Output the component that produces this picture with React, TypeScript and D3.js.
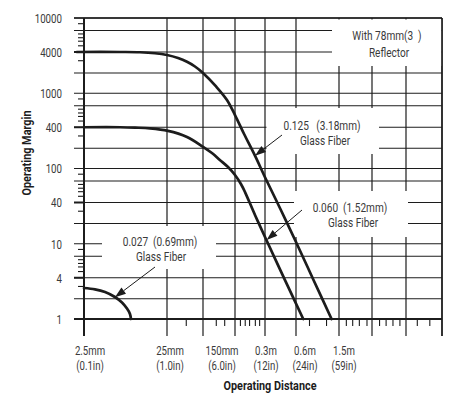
import * as d3 from "d3";

// operating distance, mm
const xGridValues = [2.5, 25, 75, 150, 300, 600, 1500, 3000, 6000, 15000];
const xMinorValues = [45, 100, 120, 170, 190, 210, 240, 265, 800, 1150, 1750, 2000, 2300, 2700, 3500, 4000, 4600, 5300, 8000, 11000];
const xTickValues = [2.5, 25, 150, 300, 600, 1500];
const xTickMetric = ["2.5mm", "25mm", "150mm", "0.3m", "0.6m", "1.5m"];
const xTickInch = ["(0.1in)", "(1.0in)", "(6.0in)", "(12in)", "(24in)", "(59in)"];

// operating margin
const yDecades = [1, 10, 100, 1000];
const yGridSteps = [1, 2, 4, 7];
const yMinorSteps = [3, 4.7, 5.3, 5.8, 6.4, 8.5];
const yTickValues = [1, 4, 10, 40, 100, 400, 1000, 4000, 10000];
const yTickLabels = ["1", "4", "10", "40", "100", "400", "1000", "4000", "10000"];

// curves (distance mm, margin)
const fiber125Dist = [2.05, 6.8, 11.8, 17.9, 25, 35, 46, 58.7, 75, 100, 126, 150, 185, 238, 300, 429, 600, 880, 1280];
const fiber125Margin = [4000, 4000, 3970, 3840, 3620, 3280, 2900, 2480, 2000, 1250, 825, 550, 320, 155, 78, 31, 10.6, 3.6, 1];
const fiber060Dist = [2.5, 6.8, 10.3, 15.6, 25.8, 46, 75, 91, 108, 129, 150, 172, 189, 238, 300, 469, 700];
const fiber060Margin = [400, 400, 395, 386, 355, 290, 210, 170, 134, 105, 83, 64.7, 52.5, 26.5, 12.6, 3.7, 1];
const fiber027Dist = [2.5, 3.39, 4.48, 5.9, 7.17, 8.24, 8.95, 9.2];
const fiber027Margin = [2.85, 2.73, 2.5, 2.12, 1.76, 1.43, 1.19, 1];

// where each arrow points (distance mm, margin)
const arrowTipDist = [238, 311, 5.9];
const arrowTipMargin = [155, 11.4, 2.1];

const W = 470;
const H = 403;
const PLOT = { left: 84, right: 442, top: 18, bottom: 319 };
// the printed chart is uneven, so both scales are piecewise
const X_GRID_PX = [0, 83, 119, 151, 181, 212, 255, 288, 322, 358];
const DECADE_PX = 75.25;
const STEP_OFFSET: { [k: number]: number } = { 1: 75.25, 2: 55, 4: 34, 7: 12.5 };
const X_LABEL_DX = [6, 3, -13, 1, 9, 5];

// no condensed face installed, so text is squeezed horizontally
const FONT = 'Roboto, "Liberation Sans", sans-serif';
const INK = "#1c1c1c";
const TEXT = "#3a3a3a";

const notes = [
  { box: [332, 19.5, 109.5, 46.5], lines: [["With 78mm(3  )", 387, 39.5], ["Reflector", 389, 56.5]], tail: null },
  { box: [266.5, 108, 112.5, 46], lines: [["0.125   (3.18mm)", 322, 130.3], ["Glass Fiber", 325, 145]], tail: [282, 135] },
  { box: [294, 191, 114, 46], lines: [["0.060  (1.52mm)", 350, 211.7], ["Glass Fiber", 353, 227]], tail: [302, 210] },
  { box: [102, 226, 114, 43], lines: [["0.027  (0.69mm)", 160, 245.8], ["Glass Fiber", 161, 260.8]], tail: [155, 267] },
];

const yDomain = [...yDecades.flatMap((d) => yGridSteps.map((s) => s * d)), 10000];
const yRange = yDomain.map((v) => {
  const k = Math.floor(Math.log10(v) + 1e-9);
  const s = Math.round(v / 10 ** k);
  return PLOT.top + (3 - k) * DECADE_PX + STEP_OFFSET[s];
});

const xScale = d3.scaleLog().domain(xGridValues).range(X_GRID_PX.map((p) => PLOT.left + p));
const yScale = d3.scaleLog().domain(yDomain).range(yRange);

const line = d3
  .line<[number, number]>()
  .x((d) => xScale(d[0]))
  .y((d) => yScale(d[1]))
  .curve(d3.curveCatmullRom.alpha(0.5));

const zip = (a: number[], b: number[]) => a.map((v, i) => [v, b[i]] as [number, number]);

function CText({ x, y, children, anchor = "middle", size = 13.5, sx = 0.72 }: any) {
  return (
    <text
      transform={`translate(${x},${y}) scale(${sx},1)`}
      textAnchor={anchor}
      fontSize={size}
      style={{ whiteSpace: "pre" }}
    >
      {children}
    </text>
  );
}

function Arrow({ x1, y1, x2, y2 }: { x1: number; y1: number; x2: number; y2: number }) {
  const a = Math.atan2(y2 - y1, x2 - x1);
  const len = 11;
  const half = 3.8;
  const bx = x2 - Math.cos(a) * len;
  const by = y2 - Math.sin(a) * len;
  const p = [
    [x2, y2],
    [bx + Math.sin(a) * half, by - Math.cos(a) * half],
    [bx - Math.sin(a) * half, by + Math.cos(a) * half],
  ];
  return (
    <g>
      <line x1={x1} y1={y1} x2={bx} y2={by} stroke={INK} strokeWidth={1} />
      <polygon points={p.map((q) => q.join(",")).join(" ")} fill={INK} />
    </g>
  );
}

function MarginChart() {
  const minorY = yDecades.flatMap((d) => yMinorSteps.map((s) => s * d));
  const curves = [
    zip(fiber125Dist, fiber125Margin),
    zip(fiber060Dist, fiber060Margin),
    zip(fiber027Dist, fiber027Margin),
  ];
  return (
    <svg width={W} height={H} style={{ display: "block", background: "#fff" }}>
      {/* horizontal grid */}
      {yDomain.map((v) => (
        <line key={"h" + v} x1={PLOT.left - 10} x2={PLOT.right} y1={yScale(v)} y2={yScale(v)} stroke={INK} strokeWidth={1.2} />
      ))}
      {yTickValues.filter((v) => String(v)[0] === "4").map((v) => (
        <line key={"ht" + v} x1={PLOT.left - 10} x2={PLOT.left} y1={yScale(v)} y2={yScale(v)} stroke={INK} strokeWidth={2} />
      ))}
      {minorY.map((v) => (
        <line key={"hm" + v} x1={PLOT.left - 6} x2={PLOT.left} y1={yScale(v)} y2={yScale(v)} stroke={INK} strokeWidth={1.1} />
      ))}
      {/* vertical grid */}
      {xGridValues.map((v) => (
        <line key={"v" + v} x1={xScale(v)} x2={xScale(v)} y1={PLOT.top} y2={PLOT.bottom + 17} stroke={INK} strokeWidth={1.2} />
      ))}
      {xMinorValues.map((v) => (
        <line key={"vm" + v} x1={xScale(v)} x2={xScale(v)} y1={PLOT.bottom} y2={PLOT.bottom + 7} stroke={INK} strokeWidth={1.1} />
      ))}
      {/* label boxes mask the grid */}
      {notes.map((n, i) => (
        <rect key={"b" + i} x={n.box[0]} y={n.box[1]} width={n.box[2]} height={n.box[3]} fill="#fff" />
      ))}
      {/* frame */}
      <line x1={PLOT.left - 10} x2={PLOT.right} y1={PLOT.top} y2={PLOT.top} stroke={INK} strokeWidth={1.5} />
      <line x1={PLOT.right} x2={PLOT.right} y1={PLOT.top} y2={PLOT.bottom + 17} stroke={INK} strokeWidth={1.5} />
      <line x1={PLOT.left} x2={PLOT.left} y1={PLOT.top} y2={PLOT.bottom + 17} stroke={INK} strokeWidth={2} />
      <line x1={PLOT.left - 10} x2={PLOT.right} y1={PLOT.bottom} y2={PLOT.bottom} stroke={INK} strokeWidth={2.2} />
      {/* curves */}
      {curves.map((c, i) => (
        <path key={"c" + i} d={line(c) || ""} fill="none" stroke={INK} strokeWidth={2.7} strokeLinecap="round" />
      ))}
      {/* annotations */}
      {notes.map((n, i) =>
        n.tail ? (
          <Arrow
            key={"a" + i}
            x1={n.tail[0]}
            y1={n.tail[1]}
            x2={xScale(arrowTipDist[i - 1])}
            y2={yScale(arrowTipMargin[i - 1])}
          />
        ) : null
      )}
      <g fontFamily={FONT} fill={TEXT}>
        {notes.flatMap((n, i) =>
          n.lines.map((l, j) => (
            <CText key={"t" + i + j} x={l[1]} y={l[2]} size={12.6} sx={0.8}>
              {l[0]}
            </CText>
          ))
        )}
        {yTickValues.map((v, i) => (
          <CText key={"yl" + v} x={62} y={yScale(v) + 4.8} anchor="end">
            {yTickLabels[i]}
          </CText>
        ))}
        {xTickValues.map((v, i) => (
          <g key={"xl" + v}>
            <CText x={xScale(v) + X_LABEL_DX[i]} y={355} size={12.5} sx={0.77}>
              {xTickMetric[i]}
            </CText>
            <CText x={xScale(v) + X_LABEL_DX[i]} y={370} size={12.5} sx={0.77}>
              {xTickInch[i]}
            </CText>
          </g>
        ))}
      </g>
      <text
        x={270}
        y={389.5}
        fontFamily={FONT}
        fontWeight="bold"
        fontSize={12.5}
        fill={INK}
        textAnchor="middle"
        textLength={93}
        lengthAdjust="spacingAndGlyphs"
      >
        Operating Distance
      </text>
      <text
        transform={`translate(31,153) rotate(-90)`}
        fontFamily={FONT}
        fontWeight="bold"
        fontSize={12}
        fill={INK}
        textAnchor="middle"
        textLength={85}
        lengthAdjust="spacingAndGlyphs"
      >
        Operating Margin
      </text>
    </svg>
  );
}

export default function App() {
  return (
    <div style={{ position: "absolute", left: 0, top: 0 }}>
      <MarginChart />
    </div>
  );
}
